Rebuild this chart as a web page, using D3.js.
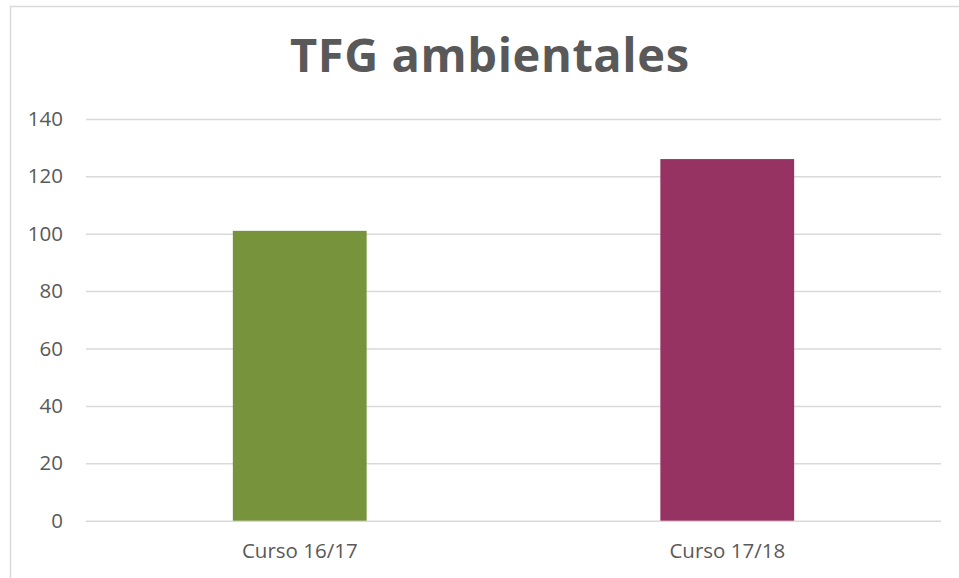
<!DOCTYPE html>
<html><head><meta charset="utf-8">
<script src="https://cdn.jsdelivr.net/npm/d3@7"></script>
<style>body{margin:0;background:#fff}svg{display:block}</style>
</head><body>
<script>
const categories = ["Curso 16/17", "Curso 17/18"];
const values = [101, 126];
const colors = ["#77933C", "#963363"];
const yTicks = [0, 20, 40, 60, 80, 100, 120, 140];
const title = "TFG ambientales";

(function () {
const W = 959, H = 578;
const svg = d3.select("body").append("svg").attr("width", W).attr("height", H);
svg.append("rect").attr("x", 10.5).attr("y", 6.5).attr("width", 960).attr("height", 600)
  .attr("fill", "#fff").attr("stroke", "#d9d9d9").attr("stroke-width", 1.5);

const pLeft = 86, pRight = 941, pTop = 118.9, pBottom = 520.7;
const x = d3.scaleBand().domain(categories).range([pLeft, pRight]).paddingInner(0.687).paddingOuter(0.3435);
const y = d3.scaleLinear().domain([0, 140]).range([pBottom, pTop]);

const font = "'Open Sans', 'Liberation Sans', sans-serif";
svg.append("text").attr("x", 489.5).attr("y", 72).attr("text-anchor", "middle")
  .attr("font-family", font).attr("font-weight", "bold").attr("font-size", 47)
  .attr("textLength", 399).attr("lengthAdjust", "spacing")
  .attr("fill", "#595959").text(title);

const yAxis = svg.append("g").attr("transform", `translate(${pLeft},0)`)
  .call(d3.axisLeft(y).tickValues(yTicks).tickSize(-(pRight - pLeft)).tickPadding(23));
yAxis.select(".domain").remove();
yAxis.selectAll(".tick line").attr("stroke", "#d9d9d9").attr("stroke-width", 1.5);
yAxis.selectAll(".tick text").attr("font-family", font).attr("font-size", 20.5).attr("fill", "#595959");

svg.selectAll("rect.bar").data(values).join("rect").attr("class", "bar")
  .attr("x", (d, i) => x(categories[i])).attr("width", x.bandwidth())
  .attr("y", d => y(d)).attr("height", d => y(0) - y(d))
  .attr("fill", (d, i) => colors[i]);

const xAxis = svg.append("g").attr("transform", `translate(0,${pBottom})`)
  .call(d3.axisBottom(x).tickSize(0).tickPadding(23));
xAxis.select(".domain").remove();
xAxis.selectAll(".tick text").attr("font-family", font).attr("font-size", 20.5).attr("fill", "#595959");
})();
</script>
</body></html>
